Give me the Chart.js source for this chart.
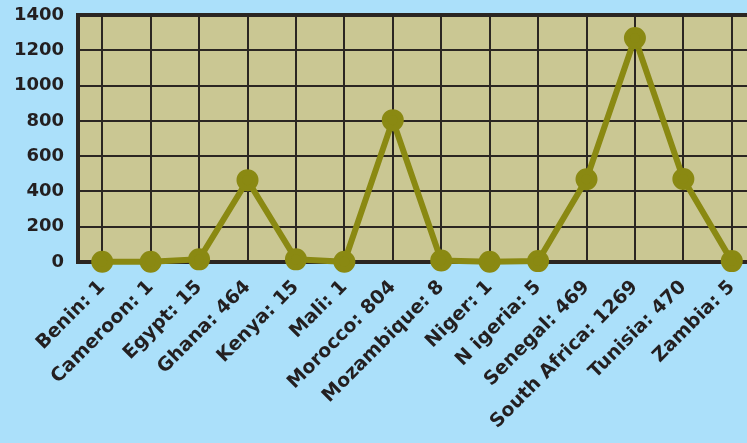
<!DOCTYPE html>
<html>
<head>
<meta charset="utf-8">
<script src="https://cdn.jsdelivr.net/npm/chart.js@4"></script>
<style>
  html, body { margin: 0; padding: 0; background: #abe0fa; overflow: hidden; }
  #wrap { width: 770px; height: 443px; }
</style>
</head>
<body>
<div id="wrap"><canvas id="grafica" width="770" height="443"></canvas></div>
<script>
// datos
const paises = ['Benin: 1', 'Cameroon: 1', 'Egypt: 15', 'Ghana: 464', 'Kenya: 15', 'Mali: 1',
  'Morocco: 804', 'Mozambique: 8', 'Niger: 1', 'N igeria: 5', 'Senegal: 469',
  'South Africa: 1269', 'Tunisia: 470', 'Zambia: 5'];
const valores = [1, 1, 15, 464, 15, 1, 804, 8, 1, 5, 469, 1269, 470, 5];
const ticksY = [0, 200, 400, 600, 800, 1000, 1200, 1400];

const fondoArea = {
  id: 'fondoArea',
  beforeDraw(chart) {
    const a = chart.chartArea;
    const ctx = chart.ctx;
    ctx.save();
    ctx.fillStyle = '#cac793';
    ctx.fillRect(a.left, a.top, a.right - a.left, a.bottom - a.top);
    ctx.restore();
  }
};

const fuenteX = { family: 'DejaVu Sans', weight: 'bold', size: 19 };
const fuenteY = { family: 'DejaVu Sans', weight: 'bold', size: 18 };

const ctx = document.getElementById('grafica').getContext('2d');
new Chart(ctx, {
  type: 'line',
  data: {
    labels: paises,
    datasets: [{
      data: valores,
      borderColor: '#8a8912',
      backgroundColor: '#8a8912',
      borderWidth: 6,
      pointRadius: 8,
      pointHoverRadius: 8,
      tension: 0,
      clip: false
    }]
  },
  options: {
    responsive: false,
    animation: false,
    layout: { padding: { top: 15, right: 0, left: 0, bottom: 0 } },
    plugins: { legend: { display: false }, tooltip: { enabled: false } },
    scales: {
      x: {
        offset: true,
        grid: { color: '#2b2622', lineWidth: 2, drawTicks: false },
        border: { color: '#2b2622', width: 4 },
        ticks: {
          color: '#231f20', font: fuenteX, maxRotation: 45, minRotation: 45,
          autoSkip: false, padding: 14
        },
        afterFit: function(scale) { scale.height = 181; }
      },
      y: {
        min: 0,
        max: 1400,
        afterBuildTicks: function(scale) { scale.ticks = ticksY.map(v => ({ value: v })); },
        grid: {
          color: '#2b2622',
          lineWidth: ctx => (ctx.tick && ctx.tick.value === 1400 ? 4 : 2),
          drawTicks: false
        },
        border: { color: '#2b2622', width: 4 },
        ticks: { color: '#231f20', font: fuenteY, padding: 14, callback: v => String(v) },
        afterFit: function(scale) {
          scale.width = 78;
          scale.paddingTop = 0;
          scale.paddingBottom = 0;
        }
      }
    }
  },
  plugins: [fondoArea]
});
</script>
</body>
</html>
